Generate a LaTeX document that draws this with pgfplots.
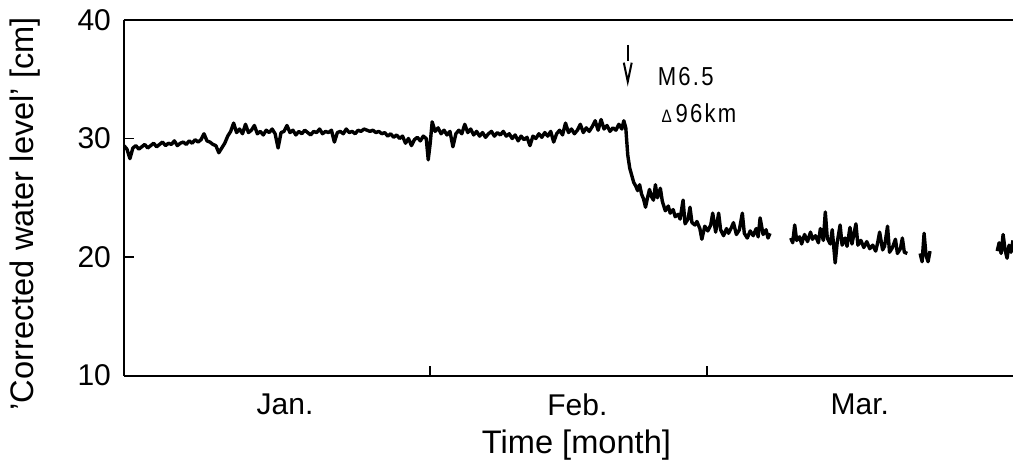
\documentclass[border=0pt]{standalone}
\usepackage{fontspec}
\setmainfont{Liberation Sans}
\newfontfamily\annot[LetterSpace=10]{Liberation Sans}
\usepackage{graphicx}
\usepackage{pgfplots}
\pgfplotsset{compat=1.18}

\begin{document}
\begin{tikzpicture}
\begin{axis}[
  scale only axis,
  width=444.5pt, height=177.75pt,
  xmin=0, xmax=90, ymin=10, ymax=40,
  axis x line=box, axis y line=left,
  axis line style={-, line width=1pt},
  every outer x axis line/.append style={-},
  every outer y axis line/.append style={-},
  tick pos=left, tick align=inside,
  major tick length=5pt,
  tick style={line width=0.8pt, black},
  ytick={10,20,30,40},
  xtick={31,59}, xticklabels={},
  extra x ticks={16.3,45.9,74.5},
  extra x tick labels={Jan.,Feb.,Mar.},
  extra x tick style={major tick length=0pt},
  /pgf/number format/assume math mode=true,
  ticklabel style={font=\fontsize{15}{18}\selectfont},
  xticklabel style={yshift=-5.5pt},
  yticklabel style={xshift=-3pt},
  xlabel={Time [month]},
  ylabel={'Corrected water level' [cm]},
  label style={font=\fontsize{16.3}{19}\selectfont},
  xlabel style={yshift=-0.5pt, xshift=4pt},
  ylabel style={at={(ticklabel cs:0.455)}, yshift=12pt},
  unbounded coords=jump,
]
\addplot[black, line width=1.7pt, line join=round] coordinates {
(0.0,29.4) (0.3,29.1) (0.6,28.3) (0.9,29.2) (1.2,29.4) (1.5,29.1) (1.8,29.3) (2.1,29.5)
(2.4,29.2) (2.7,29.4) (3.0,29.6) (3.3,29.3) (3.6,29.5) (3.9,29.7) (4.2,29.4) (4.5,29.6)
(4.8,29.5) (5.1,29.8) (5.4,29.4) (5.7,29.6) (6.0,29.7) (6.3,29.5) (6.6,29.8) (6.9,29.6)
(7.2,29.9) (7.5,29.7) (7.8,29.9) (8.1,30.4) (8.4,29.8) (8.7,29.7) (9.0,29.5) (9.3,29.4)
(9.6,28.8) (9.9,29.2) (10.2,29.6) (10.5,30.2) (10.8,30.6) (11.1,31.3) (11.4,30.5) (11.7,30.8)
(12.0,30.4) (12.3,31.2) (12.6,30.5) (12.9,30.7) (13.2,31.1) (13.5,30.4) (13.8,30.6) (14.1,30.3)
(14.4,30.7) (14.7,30.5) (15.0,30.8) (15.3,30.4) (15.6,29.2) (15.9,30.5) (16.2,30.6) (16.5,31.1)
(16.8,30.5) (17.1,30.7) (17.4,30.3) (17.7,30.6) (18.0,30.4) (18.3,30.7) (18.6,30.5) (18.9,30.3)
(19.2,30.6) (19.5,30.5) (19.8,30.8) (20.1,30.4) (20.4,30.6) (20.7,30.5) (21.0,30.7) (21.3,29.7)
(21.6,30.5) (21.9,30.6) (22.2,30.4) (22.5,30.8) (22.8,30.5) (23.1,30.6) (23.4,30.4) (23.7,30.7)
(24.0,30.6) (24.3,30.8) (24.6,30.7) (24.9,30.6) (25.2,30.7) (25.5,30.5) (25.8,30.6) (26.1,30.4)
(26.4,30.5) (26.7,30.2) (27.0,30.4) (27.3,30.1) (27.6,30.3) (27.9,30.0) (28.2,30.2) (28.5,29.6)
(28.8,30.0) (29.1,29.4) (29.4,29.9) (29.7,30.1) (30.0,29.8) (30.3,30.2) (30.6,30.0) (30.8,28.2)
(31.0,29.6) (31.2,31.4) (31.5,30.6) (31.8,30.9) (32.1,30.4) (32.4,30.7) (32.7,30.3) (33.0,30.6)
(33.3,29.3) (33.6,30.4) (33.9,30.7) (34.2,30.4) (34.5,31.2) (34.8,30.5) (35.1,30.8) (35.4,30.3)
(35.7,30.6) (36.0,30.2) (36.3,30.5) (36.6,30.1) (36.9,30.4) (37.2,30.6) (37.5,30.2) (37.8,30.5)
(38.1,30.3) (38.4,30.6) (38.7,30.2) (39.0,30.4) (39.3,30.0) (39.6,30.3) (39.9,29.8) (40.2,30.2)
(40.5,29.9) (40.8,30.1) (41.1,29.4) (41.4,30.2) (41.7,30.0) (42.0,30.4) (42.3,30.1) (42.6,30.5)
(42.9,30.2) (43.2,30.6) (43.5,29.7) (43.8,30.4) (44.1,30.7) (44.4,30.3) (44.7,31.3) (45.0,30.5)
(45.3,30.8) (45.6,30.4) (45.9,30.7) (46.2,31.2) (46.5,30.5) (46.8,30.9) (47.1,30.6) (47.4,31.0)
(47.7,31.5) (48.0,30.7) (48.3,31.6) (48.6,30.8) (48.9,31.1) (49.2,30.6) (49.5,30.9) (49.8,30.7)
(50.1,31.2) (50.4,30.8) (50.6,31.5) (50.8,30.9) (51.0,28.6) (51.2,27.5) (51.4,26.9) (51.6,26.3)
(51.8,26.0) (52.0,25.6) (52.2,26.1) (52.4,25.3) (52.6,24.9) (52.8,24.2) (53.0,25.0) (53.2,25.7)
(53.4,25.1) (53.6,24.8) (53.8,26.1) (54.0,25.0) (54.3,25.8) (54.5,24.7) (54.8,23.9) (55.1,24.3)
(55.3,23.7) (55.6,24.0) (55.8,23.4) (56.1,23.6) (56.3,23.2) (56.6,24.8) (56.8,22.8) (57.1,23.2)
(57.3,24.2) (57.5,22.9) (57.8,22.7) (58.0,23.0) (58.3,22.4) (58.5,21.5) (58.8,22.6) (59.1,22.2)
(59.4,22.7) (59.6,23.7) (59.9,22.1) (60.2,23.7) (60.4,22.3) (60.7,21.8) (61.0,22.4) (61.2,22.0)
(61.5,22.5) (61.7,22.9) (62.0,21.9) (62.3,22.3) (62.6,23.7) (62.8,22.0) (63.1,21.6) (63.4,22.2)
(63.7,21.8) (64.0,22.4) (64.2,21.7) (64.4,23.3) (64.7,21.9) (65.0,22.3) (65.2,21.6) (65.4,22.0)
(66.4,nan)
(67.5,21.6) (67.7,21.2) (67.9,22.7) (68.1,21.4) (68.4,21.7) (68.6,21.1) (68.9,21.9) (69.2,21.3)
(69.5,22.1) (69.7,21.5) (70.0,21.8) (70.3,21.2) (70.5,22.4) (70.8,21.4) (71.0,23.8) (71.2,21.6)
(71.5,21.1) (71.7,22.3) (72.0,19.5) (72.2,21.2) (72.5,22.7) (72.7,21.0) (73.0,21.6) (73.2,20.9)
(73.5,22.5) (73.7,21.1) (74.1,22.8) (74.3,21.0) (74.6,21.4) (74.9,20.8) (75.2,21.3) (75.5,20.7)
(75.8,21.0) (76.1,20.5) (76.3,21.2) (76.5,22.1) (76.8,20.6) (77.0,20.9) (77.3,22.6) (77.5,20.4)
(77.8,20.8) (78.1,21.5) (78.3,20.3) (78.6,20.7) (78.8,21.6) (79.0,20.4) (79.3,20.3)
(80.0,nan)
(80.6,20.3) (80.8,19.6) (81.0,22.0) (81.2,20.1) (81.4,19.6) (81.6,20.5)
(85.0,nan)
(88.4,20.5) (88.6,21.2) (88.8,20.3) (89.0,21.9) (89.2,20.6) (89.4,19.9) (89.6,21.0) (89.8,20.4)
(90.0,21.4)
};
% earthquake marker
\draw[line width=1pt] (axis cs:51,37.9) -- (axis cs:51,36.5);
\draw[line width=1pt] (axis cs:50.6,36.4) -- (axis cs:51,34.8) -- (axis cs:51.4,36.4);
\node[anchor=west, inner sep=0pt] at (axis cs:54.0,35.2)
  {\scalebox{0.85}[1]{\annot\fontsize{13}{15}\selectfont M6.5}};
\node[anchor=west, inner sep=0pt] at (axis cs:54.4,32.1)
  {\scalebox{0.85}[1]{\annot\fontsize{13}{15}\selectfont{\fontsize{9}{10}\selectfont Δ}\,96km}};
\end{axis}
\pgfresetboundingbox
\useasboundingbox (-62pt,-43.25pt) rectangle (444.5pt,187.75pt);
\end{tikzpicture}
\end{document}
